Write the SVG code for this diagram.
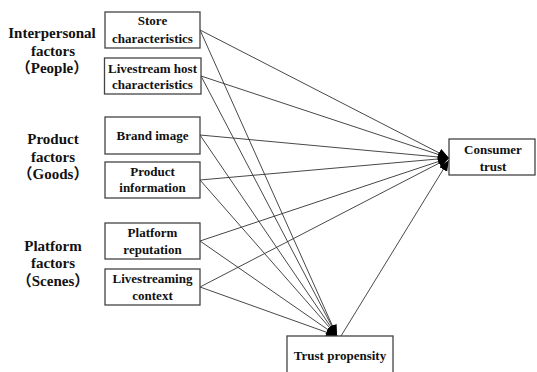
<svg xmlns="http://www.w3.org/2000/svg" width="537" height="372" viewBox="0 0 537 372">
<style>
.box{fill:#fff;stroke:#444;stroke-width:1.3}
.t{font-family:"Liberation Serif","Times New Roman",serif;font-weight:bold;font-size:13px;fill:#111;text-anchor:middle}
.g{font-family:"Liberation Serif","Times New Roman","Noto Sans CJK SC",serif;font-weight:bold;font-size:15px;fill:#111;text-anchor:middle}
.c line{stroke:#333;stroke-width:0.9;marker-end:url(#ah)}
</style>
<defs>
<marker id="ah" markerUnits="userSpaceOnUse" markerWidth="12" markerHeight="10" refX="11" refY="4.5" orient="auto">
<path d="M0,0 L11,4.5 L0,9 Z" fill="#000"/>
</marker>
</defs>
<rect width="537" height="372" fill="#fff"/>
<g id="labels">
<text class="g" x="52" y="38">Interpersonal</text>
<text class="g" x="53" y="56">factors</text>
<text class="g" x="52" y="73">（People）</text>
<text class="g" x="53" y="144">Product</text>
<text class="g" x="53" y="162">factors</text>
<text class="g" x="53" y="179">（Goods）</text>
<text class="g" x="53" y="251">Platform</text>
<text class="g" x="53" y="268">factors</text>
<text class="g" x="53" y="286">（Scenes）</text>
</g>
<g class="c" id="connectors">
<line x1="200" y1="30" x2="449" y2="158"/>
<line x1="200" y1="30" x2="337" y2="336"/>
<line x1="201" y1="76" x2="449" y2="158"/>
<line x1="201" y1="76" x2="337" y2="336"/>
<line x1="200" y1="135" x2="449" y2="158"/>
<line x1="200" y1="135" x2="337" y2="336"/>
<line x1="200" y1="180" x2="449" y2="158"/>
<line x1="200" y1="180" x2="337" y2="336"/>
<line x1="200" y1="241" x2="449" y2="158"/>
<line x1="200" y1="241" x2="337" y2="336"/>
<line x1="200" y1="287" x2="449" y2="158"/>
<line x1="200" y1="287" x2="337" y2="336"/>
<line x1="341" y1="336" x2="449" y2="160"/>
</g>
<g id="n1"><rect class="box" x="105" y="12" width="95" height="36"/><text class="t" x="152.5" y="25">Store</text><text class="t" x="152.5" y="43">characteristics</text></g>
<g id="n2"><rect class="box" x="104.5" y="58" width="96.5" height="36"/><text class="t" x="152.5" y="73">Livestream host</text><text class="t" x="152.5" y="89">characteristics</text></g>
<g id="n3"><rect class="box" x="105" y="117" width="95" height="37"/><text class="t" x="152.5" y="140">Brand image</text></g>
<g id="n4"><rect class="box" x="105" y="162" width="95" height="36"/><text class="t" x="152.5" y="176">Product</text><text class="t" x="152.5" y="192">information</text></g>
<g id="n5"><rect class="box" x="105" y="223" width="95" height="36"/><text class="t" x="152.5" y="237">Platform</text><text class="t" x="152.5" y="254">reputation</text></g>
<g id="n6"><rect class="box" x="105" y="269" width="95" height="36"/><text class="t" x="152.5" y="283">Livestreaming</text><text class="t" x="152.5" y="300">context</text></g>
<g id="n7"><rect class="box" x="449" y="139" width="86" height="36"/><text class="t" x="493" y="154">Consumer</text><text class="t" x="493" y="171">trust</text></g>
<g id="n8"><rect class="box" x="287" y="336" width="106" height="40"/><text class="t" x="340" y="360">Trust propensity</text></g>
</svg>
